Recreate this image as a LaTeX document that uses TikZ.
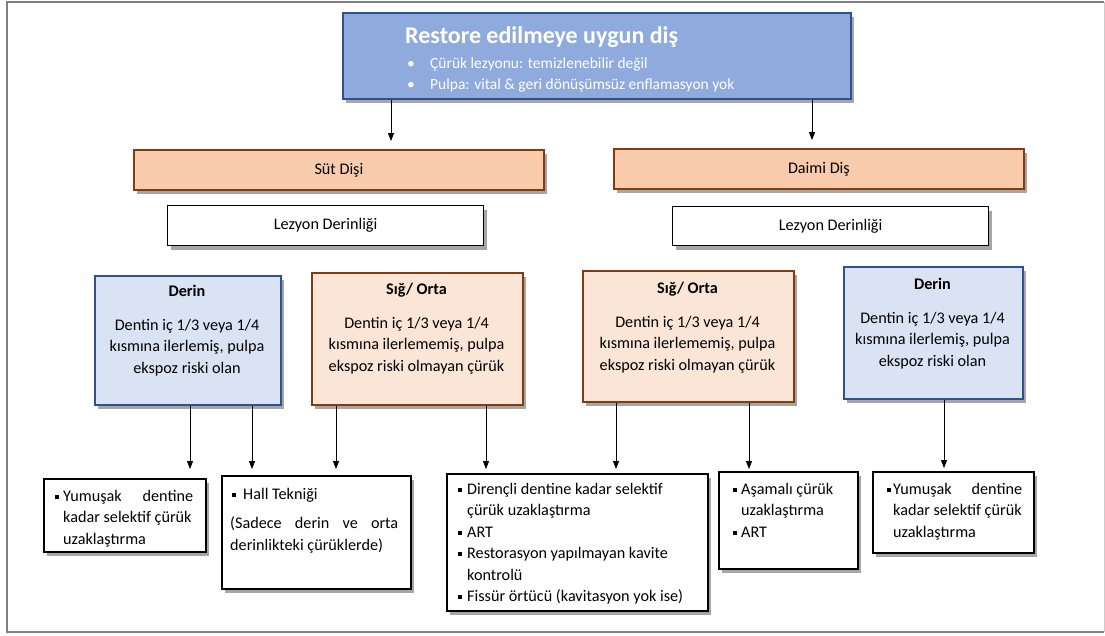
\documentclass[tikz,border=0pt]{standalone}
\usepackage{fontspec}
\setmainfont{Carlito}
\usetikzlibrary{arrows.meta,shadows}
\definecolor{topfill}{HTML}{8FAADC}
\definecolor{blueline}{HTML}{2F528F}
\definecolor{orfill}{HTML}{F8CBAD}
\definecolor{brownline}{HTML}{843C0C}
\definecolor{lorfill}{HTML}{FBE5D6}
\definecolor{lbfill}{HTML}{DAE3F3}
\newcommand\sqb{\rule[2.5pt]{4pt}{4pt}}
\newcommand\bl[1][9pt]{\makebox[#1][l]{\sqb}}
\begin{document}
\begin{tikzpicture}[x=1pt,y=-1pt,
  shad/.style={drop shadow={shadow xshift=3pt,shadow yshift=-4pt,fill=black,opacity=0.35}},
  box/.style={draw, rectangle, inner sep=0pt, anchor=north west, shad, font=\fontsize{16.2}{21.5}\selectfont},
  topbox/.style={box, fill=topfill, draw=blueline, line width=2pt},
  tooth/.style={box, fill=orfill, draw=brownline, line width=1.8pt},
  lez/.style={box, fill=white, draw=black, line width=1.2pt},
  shallow/.style={box, fill=lorfill, draw=brownline, line width=1.8pt},
  deep/.style={box, fill=lbfill, draw=blueline, line width=1.8pt},
  treat/.style={box, fill=white, draw=black, line width=2pt},
  txt/.style={inner sep=0pt, font=\fontsize{16.2}{21.5}\selectfont},
  arr/.style={-{Triangle[width=6pt,length=8pt]}, line width=0.8pt},
]
\useasboundingbox (0,0) rectangle (1105,635);
% outer frame
\draw[line width=1.5pt, black!50] (1104,2) -- (7,2) -- (7,632) -- (1104,632);
\draw[line width=1pt, black!20] (1104,2) -- (1104,632);

% boxes
\node[topbox, minimum width=508pt, minimum height=86pt] (top) at (342,12) {};
\node[tooth, minimum width=410pt, minimum height=40pt] (sut) at (133,149) {Süt Dişi};
\node[tooth, minimum width=410pt, minimum height=40pt] (daimi) at (613,148) {Daimi Diş};
\node[lez, minimum width=316pt, minimum height=40pt] (lezL) at (167,205) {Lezyon Derinliği};
\node[lez, minimum width=316pt, minimum height=39pt] (lezR) at (672,206) {Lezyon Derinliği};
\node[deep, minimum width=186pt, minimum height=129pt] (derinL) at (94,275) {};
\node[shallow, minimum width=211pt, minimum height=132pt] (sigL) at (311,272) {};
\node[shallow, minimum width=211pt, minimum height=131pt] (sigR) at (582,270) {};
\node[deep, minimum width=179pt, minimum height=132pt] (derinR) at (843,266) {};
\node[treat, minimum width=162pt, minimum height=73pt] (yumL) at (43,478) {};
\node[treat, minimum width=189pt, minimum height=113pt] (hall) at (221,475) {};
\node[treat, minimum width=261pt, minimum height=137pt] (dir) at (446,473) {};
\node[treat, minimum width=139pt, minimum height=97pt] (asa) at (718,471) {};
\node[treat, minimum width=161pt, minimum height=81pt] (yumR) at (872,471) {};

% texts (base anchor = baseline of the last line)
\node[txt, anchor=base west, text=white, font=\fontsize{24}{28}\selectfont\bfseries] (title) at (405,43) {Restore edilmeye uygun diş};
\node[txt, anchor=base west, align=left, text=white, font=\fontsize{15.5}{21}\selectfont] (topb) at (407,89)
  {\makebox[23pt][l]{\textbullet}Çürük lezyonu: temizlenebilir değil\\\makebox[23pt][l]{\textbullet}Pulpa: vital \& geri dönüşümsüz enflamasyon yok};

\node[txt, anchor=base, align=center] (derinLt) at (187,373)
  {\textbf{Derin}\\[12pt]Dentin iç 1/3 veya 1/4\\kısmına ilerlemiş, pulpa\\ekspoz riski olan};
\node[txt, anchor=base, align=center] (sigLt) at (416.5,371)
  {\textbf{Sığ/ Orta}\\[12pt]Dentin iç 1/3 veya 1/4\\kısmına ilerlememiş, pulpa\\ekspoz riski olmayan çürük};
\node[txt, anchor=base, align=center] (sigRt) at (687.5,370)
  {\textbf{Sığ/ Orta}\\[12pt]Dentin iç 1/3 veya 1/4\\kısmına ilerlememiş, pulpa\\ekspoz riski olmayan çürük};
\node[txt, anchor=base, align=center] (derinRt) at (932.5,366)
  {\textbf{Derin}\\[12pt]Dentin iç 1/3 veya 1/4\\kısmına ilerlemiş, pulpa\\ekspoz riski olan};

\node[txt, anchor=base west, align=left] (yumLt) at (55,544)
  {\hbox to 138pt{\bl[8pt]Yumuşak\hfill dentine}\\\hspace*{8pt}kadar selektif çürük\\\hspace*{8pt}uzaklaştırma};
\node[txt, anchor=base west, align=left] (hallt) at (232,550)
  {\bl[11pt]Hall Tekniği\\[8pt]\hspace*{-2pt}\hbox to 168pt{(Sadece\hfill derin\hfill ve\hfill orta}\\\hspace*{-2pt}derinlikteki çürüklerde)};
\node[txt, anchor=base west, align=left] (dirt) at (458,601.5)
  {\bl Dirençli dentine kadar selektif\\\hspace*{9pt}çürük uzaklaştırma\\\bl ART\\\bl Restorasyon yapılmayan kavite\\\hspace*{9pt}kontrolü\\\bl Fissür örtücü (kavitasyon yok ise)};
\node[txt, anchor=base west, align=left] (asat) at (733,537)
  {\bl[8pt]Aşamalı çürük\\\hspace*{8pt}uzaklaştırma\\\bl[8pt]ART};
\node[txt, anchor=base west, align=left] (yumRt) at (887,537)
  {\hbox to 135pt{\bl[6pt]Yumuşak\hfill dentine}\\\hspace*{6pt}kadar selektif çürük\\\hspace*{6pt}uzaklaştırma};

% connectors
\draw[arr, shorten >=8pt] (top.south -| 391,0) -- (sut.north -| 391,0);
\draw[arr, shorten >=8pt] (top.south -| 812,0) -- (daimi.north -| 812,0);
\draw[arr, shorten >=9pt] (derinL.south -| 190,0) -- (yumL.north -| 190,0);
\draw[arr, shorten >=6pt] (derinL.south -| 252,0) -- (hall.north -| 252,0);
\draw[arr, shorten >=6pt] (sigL.south -| 336,0) -- (hall.north -| 336,0);
\draw[arr, shorten >=4pt] (sigL.south -| 486,0) -- (dir.north -| 486,0);
\draw[arr, shorten >=4pt] (sigR.south -| 616,0) -- (dir.north -| 616,0);
\draw[arr, shorten >=2pt] (sigR.south -| 749,0) -- (asa.north -| 749,0);
\draw[arr, shorten >=3pt] (derinR.south -| 944,0) -- (yumR.north -| 944,0);
\end{tikzpicture}
\end{document}
